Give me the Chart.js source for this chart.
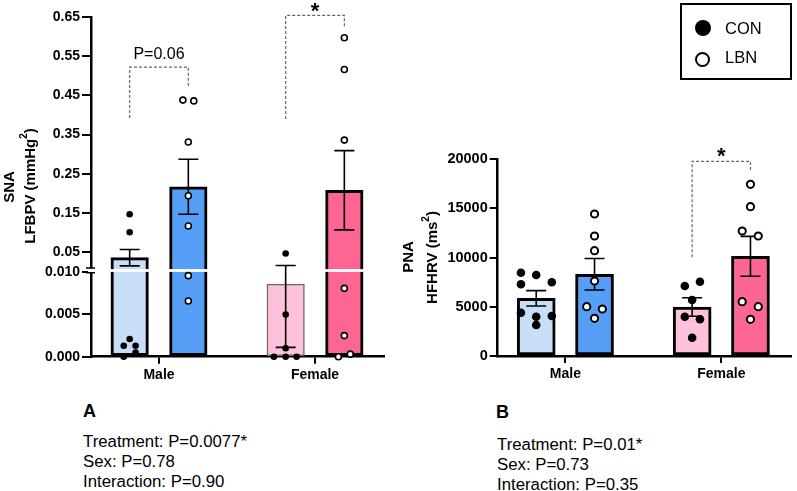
<!DOCTYPE html>
<html>
<head>
<meta charset="utf-8">
<title>SNA / PNA by sex and treatment</title>
<script src="https://cdn.jsdelivr.net/npm/chart.js@4.4.1/dist/chart.umd.min.js"></script>
<style>
  body { margin: 0; background: #fff; }
  #figure {
    position: relative; width: 797px; height: 491px; overflow: hidden; background: #fff;
    font-family: "Liberation Sans", Arial, Helvetica, sans-serif; color: #000;
  }
  #figure canvas { position: absolute; top: 0; }
  #chart-a { left: 0; }
  #chart-b { left: 400px; }
  .legend-box { position: absolute; left: 680px; top: 3px; width: 108px; height: 73px; border: 2px solid #000; }
  .legend-dot { position: absolute; border-radius: 50%; box-sizing: border-box; }
  .legend-text { position: absolute; font-size: 16.5px; line-height: 16.5px; white-space: nowrap; }
  .panel-tag { position: absolute; font-weight: bold; font-size: 18px; line-height: 18px; }
  .stats { position: absolute; font-size: 16.8px; line-height: 20.2px; white-space: nowrap; }
</style>
</head>
<body>
<div id="figure">
  <canvas id="chart-a" width="395" height="400"></canvas>
  <canvas id="chart-b" width="397" height="400"></canvas>
  <div class="legend-box"></div>
  <div id="legend"></div>
  <div class="panel-tag" style="left:83px;top:401.5px">A</div>
  <div class="stats" id="stats-a" style="left:83px;top:432px"></div>
  <div class="panel-tag" style="left:496px;top:403px">B</div>
  <div class="stats" id="stats-b" style="left:497px;top:434.5px"></div>
</div>
<script>
// Two-panel bar + dot figure: SNA (LFBPV) and PNA (HFHRV), CON vs LBN.
// Plain script, no modules.

// --- data ---

const SEXES = ["Male", "Female"];
const GROUPS = ["CON", "LBN"];

// panel A, broken y axis: lower segment 0..0.010, upper 0.05..0.65
const A_LOWER_TICKS = [0, 0.005, 0.010];
const A_UPPER_TICKS = [0.05, 0.15, 0.25, 0.35, 0.45, 0.55, 0.65];
const A_CON_MEAN = [0.036, 0.0086];
const A_CON_SEM = [0.021, 0.0075];
const A_LBN_MEAN = [0.217, 0.208];
const A_LBN_SEM = [0.07, 0.101];
const A_CON_POINTS = [
  [0.147, 0.101, 0.0021, 0.0013, 0.0013, 0.0005, 0],
  [0.0465, 0.005, 0.001, 0, 0, 0],
];
const A_LBN_POINTS = [
  [0.438, 0.436, 0.331, 0.194, 0.117, 0.0096, 0.0066],
  [0.597, 0.516, 0.336, 0.0081, 0.0025, 0.0003, 0],
];
// sideways spread of the dots (category units)
const A_CON_JITTER = [
  [0, 0, 0, -0.038, 0.038, 0.038, -0.038],
  [0, 0, 0, -0.075, 0, 0.07],
];
const A_LBN_JITTER = [
  [-0.035, 0.035, 0, 0, 0, 0, 0],
  [0, 0, 0, 0, 0, 0.038, -0.038],
];
const A_STATS = ["Treatment: P=0.0077*", "Sex: P=0.78", "Interaction: P=0.90"];

// panel B
const B_TICKS = [0, 5000, 10000, 15000, 20000];
const B_CON_MEAN = [5864, 4980];
const B_CON_SEM = [780, 940];
const B_LBN_MEAN = [8303, 10132];
const B_LBN_SEM = [1600, 2020];
const B_CON_POINTS = [
  [8465, 8232, 7287, 7490, 4400, 4065, 3994, 3150],
  [7551, 7114, 5691, 3994, 3730, 1860],
];
const B_LBN_POINTS = [
  [14431, 12195, 10700, 7622, 5010, 4776, 3830],
  [17449, 15173, 12703, 12195, 5518, 5010, 3730],
];
const B_CON_JITTER = [
  [-0.098, 0, -0.098, 0.1, -0.098, 0.1, 0, 0],
  [0.05, -0.047, 0, -0.047, 0.05, 0],
];
const B_LBN_JITTER = [
  [0, 0, 0, 0, -0.05, 0.05, 0],
  [0, 0, -0.053, 0.05, -0.053, 0.05, 0],
];
const B_STATS = ["Treatment: P=0.01*", "Sex: P=0.73", "Interaction: P=0.35"];

// --- look ---

const FONT = "'Liberation Sans', Arial, Helvetica, sans-serif";
const CON_FILL = ["#c8ddf6", "#fec1dc"];
const LBN_FILL = ["#579ff6", "#fd6692"];

// axis ranges of the two stacked segments in panel A
const A_LOW_MAX = 0.010213;
const A_HIGH_MIN = 0.00332;
const A_HIGH_MAX = 0.65;

const SHIFT_A = 0.188; // CON / LBN bar offset from the category centre
const SHIFT_B = 0.187;
const CAP = 10;

Chart.defaults.font.family = FONT;
Chart.defaults.color = "#000";

// --- helpers ---

function points_build(valuesBySex, jitterBySex, shift, keep) {
  const out = [];
  valuesBySex.forEach(function (vals, sex) {
    vals.forEach(function (v, k) {
      if (keep(v)) {
        out.push({ x: sex + shift + jitterBySex[sex][k], y: v });
      }
    });
  });
  return out;
}

function dots_dataset(label, data, yAxisID, open, radius) {
  return {
    type: "scatter",
    label: label,
    order: 1,
    clip: false,
    xAxisID: "x",
    yAxisID: yAxisID,
    data: data,
    pointRadius: open ? radius - 0.8 : radius,
    pointBackgroundColor: open ? "#fff" : "#000",
    pointBorderColor: "#000",
    pointBorderWidth: open ? (radius > 4 ? 2 : 1.6) : 0,
  };
}

function ticks_fixed(values) {
  return function (scale) {
    scale.ticks = values.map(function (v) {
      return { value: v };
    });
  };
}

function axis_x(min, max) {
  return {
    type: "linear",
    min: min,
    max: max,
    offset: false,
    afterBuildTicks: ticks_fixed(SEXES.map(function (_, i) { return i; })),
    afterFit: function (s) { s.height = 30; },
    ticks: {
      callback: function (v) { return SEXES[v]; },
      font: { size: 14, weight: "bold" },
      padding: 3,
      maxRotation: 0,
      autoSkip: false,
    },
    grid: { display: true, offset: false, drawOnChartArea: false, drawTicks: true, tickLength: 7, color: "#000", lineWidth: 2 },
    border: { display: true, color: "#000", width: 2.5 },
  };
}

function axis_y(opts) {
  return Object.assign({
    type: "linear",
    position: "left",
    offset: false,
    stacked: false,
    afterFit: function (s) { s.width = opts.width; },
    afterBuildTicks: ticks_fixed(opts.ticks),
    ticks: {
      font: { size: opts.fontSize, weight: "bold" },
      padding: 2,
      autoSkip: false,
      callback: opts.format,
    },
    grid: { display: true, drawOnChartArea: false, drawTicks: true, tickLength: opts.tickLength, color: "#000", lineWidth: 2 },
    border: { display: true, color: "#000", width: 2.5 },
  }, opts.extra);
}

// --- overlay drawing (error bars, axis break, brackets, titles) ---

function overlay_drawErrorBars(chart, panel) {
  const ctx = chart.ctx;
  const xs = chart.scales.x;
  ctx.save();
  ctx.strokeStyle = "#000";
  ctx.lineWidth = 1.6;
  panel.groups.forEach(function (g) {
    g.mean.forEach(function (m, sex) {
      const x = xs.getPixelForValue(sex + g.shift);
      const yTop = panel.yPixel(chart, m + g.sem[sex]);
      const yBot = panel.yPixel(chart, Math.max(m - g.sem[sex], 0));
      ctx.beginPath();
      ctx.moveTo(x, yTop);
      ctx.lineTo(x, yBot);
      ctx.moveTo(x - CAP, yTop);
      ctx.lineTo(x + CAP, yTop);
      ctx.moveTo(x - CAP, yBot);
      ctx.lineTo(x + CAP, yBot);
      ctx.stroke();
    });
  });
  ctx.restore();
}

function overlay_drawBreak(chart) {
  const ctx = chart.ctx;
  const area = chart.chartArea;
  const yb = chart.scales.yLow.top; // seam between the two segments
  ctx.save();
  ctx.fillStyle = "#fff";
  ctx.fillRect(area.left + 2, yb - 1.4, area.right - area.left - 2, 2.8);
  ctx.fillRect(area.left - 3, yb - 2, 6, 4);
  ctx.strokeStyle = "#000";
  ctx.lineWidth = 1.5;
  ctx.beginPath();
  ctx.moveTo(area.left - 5, yb - 2.6);
  ctx.lineTo(area.left + 4, yb - 2.6);
  ctx.moveTo(area.left - 5, yb + 2.2);
  ctx.lineTo(area.left + 4, yb + 2.2);
  ctx.stroke();
  ctx.restore();
}

function overlay_drawBrackets(chart, panel) {
  const ctx = chart.ctx;
  const xs = chart.scales.x;
  panel.brackets.forEach(function (b) {
    const xl = xs.getPixelForValue(b.sex - panel.shift);
    const xr = xs.getPixelForValue(b.sex + panel.shift);
    const yl = panel.yPixel(chart, b.leftFoot);
    const yt = panel.yPixel(chart, b.top);
    const yr = panel.yPixel(chart, b.rightFoot);
    ctx.save();
    ctx.strokeStyle = "#666";
    ctx.lineWidth = 1.2;
    ctx.setLineDash([3, 2]);
    ctx.beginPath();
    ctx.moveTo(xl, yl);
    ctx.lineTo(xl, yt);
    ctx.lineTo(xr, yt);
    ctx.lineTo(xr, yr);
    ctx.stroke();
    ctx.setLineDash([]);
    ctx.fillStyle = "#000";
    ctx.textAlign = "center";
    const xc = (xl + xr) / 2;
    const yc = panel.yPixel(chart, b.labelAt);
    if (b.label === "*") {
      ctx.font = "bold 22px " + FONT;
      ctx.textBaseline = "alphabetic";
      ctx.fillText(b.label, xc, yc + 0.58 * 22);
    } else {
      ctx.font = "16px " + FONT;
      ctx.textBaseline = "middle";
      ctx.fillText(b.label, xc, yc);
    }
    ctx.restore();
  });
}

// a rotated title line, made of plain and superscript parts
function overlay_drawTitleLine(ctx, line) {
  const bodyFont = "bold 15px " + FONT;
  const supFont = "bold 10px " + FONT;
  let total = 0;
  line.parts.forEach(function (p) {
    ctx.font = p.sup ? supFont : bodyFont;
    total += ctx.measureText(p.text).width;
  });
  ctx.save();
  ctx.translate(line.x, line.y);
  ctx.rotate(-Math.PI / 2);
  ctx.textAlign = "left";
  ctx.textBaseline = "middle";
  let cursor = -total / 2;
  line.parts.forEach(function (p) {
    ctx.font = p.sup ? supFont : bodyFont;
    ctx.fillText(p.text, cursor, p.sup ? -6 : 0);
    cursor += ctx.measureText(p.text).width;
  });
  ctx.restore();
}

function overlay_drawTitle(chart, panel) {
  const ctx = chart.ctx;
  ctx.save();
  ctx.fillStyle = "#000";
  panel.title.forEach(function (line) {
    overlay_drawTitleLine(ctx, line);
  });
  ctx.restore();
}

function overlay_plugin(panel) {
  return {
    id: "overlay" + panel.name,
    // dataset 0 is the bar that is painted last, dots come after it
    afterDatasetDraw: function (chart, args) {
      if (args.index !== 0) return;
      if (panel.broken) overlay_drawBreak(chart);
      overlay_drawErrorBars(chart, panel);
    },
    afterDraw: function (chart) {
      overlay_drawBrackets(chart, panel);
      overlay_drawTitle(chart, panel);
    },
  };
}

// --- panel A ---

function panelA_yPixel(chart, v) {
  return v <= A_LOW_MAX
    ? chart.scales.yLow.getPixelForValue(v)
    : chart.scales.yHigh.getPixelForValue(v);
}

function panelA_build() {
  const isLow = function (v) { return v <= A_LOW_MAX; };
  const isHigh = function (v) { return v > A_LOW_MAX; };
  const skipClipped = function (c) {
    return c.raw && c.raw.y >= A_LOW_MAX ? "top" : false;
  };

  function lowBars(label, means, shift, fill, border, width) {
    return {
      type: "bar", label: label, order: 2, grouped: false, barThickness: 37.5,
      xAxisID: "x", yAxisID: "yLow",
      data: means.map(function (m, i) { return { x: i + shift, y: Math.min(m, A_LOW_MAX) }; }),
      backgroundColor: fill, borderColor: border, borderWidth: width, borderSkipped: skipClipped,
    };
  }
  function highBars(label, means, shift, fill) {
    const data = [];
    means.forEach(function (m, i) {
      if (m > A_LOW_MAX) data.push({ x: i + shift, y: [A_HIGH_MIN, m] });
    });
    return {
      type: "bar", label: label, order: 2, grouped: false, barThickness: 37.5,
      xAxisID: "x", yAxisID: "yHigh", data: data,
      backgroundColor: fill, borderColor: "#000", borderWidth: 3, borderSkipped: "bottom",
    };
  }

  const datasets = [
    lowBars("CON", A_CON_MEAN, -SHIFT_A, CON_FILL, ["#000", "#6a6a6a"], [3, 1.5]),
    lowBars("LBN", A_LBN_MEAN, SHIFT_A, LBN_FILL, "#000", 3),
    highBars("CON", A_CON_MEAN, -SHIFT_A, CON_FILL),
    highBars("LBN", A_LBN_MEAN, SHIFT_A, LBN_FILL),
    dots_dataset("CON", points_build(A_CON_POINTS, A_CON_JITTER, -SHIFT_A, isLow), "yLow", false, 3.3),
    dots_dataset("CON", points_build(A_CON_POINTS, A_CON_JITTER, -SHIFT_A, isHigh), "yHigh", false, 3.3),
    dots_dataset("LBN", points_build(A_LBN_POINTS, A_LBN_JITTER, SHIFT_A, isLow), "yLow", true, 3.8),
    dots_dataset("LBN", points_build(A_LBN_POINTS, A_LBN_JITTER, SHIFT_A, isHigh), "yHigh", true, 3.8),
  ];

  const panel = {
    name: "A",
    broken: true,
    shift: SHIFT_A,
    yPixel: panelA_yPixel,
    groups: [
      { mean: A_CON_MEAN, sem: A_CON_SEM, shift: -SHIFT_A },
      { mean: A_LBN_MEAN, sem: A_LBN_SEM, shift: SHIFT_A },
    ],
    brackets: [
      { sex: 0, leftFoot: 0.3926, top: 0.522, rightFoot: 0.47, label: "P=0.06", labelAt: 0.555 },
      { sex: 1, leftFoot: 0.39, top: 0.654, rightFoot: 0.621, label: "*", labelAt: 0.681 },
    ],
    title: [
      { x: 10, y: 187, parts: [{ text: "SNA" }] },
      { x: 30.5, y: 186, parts: [{ text: "LFBPV (mmHg" }, { text: "2", sup: true }, { text: ")" }] },
    ],
  };

  return new Chart(document.getElementById("chart-a"), {
    type: "bar",
    data: { datasets: datasets },
    options: {
      responsive: false,
      animation: false,
      events: [],
      layout: { padding: { top: 17, right: 11, bottom: 13.3, left: 0 } },
      plugins: { legend: { display: false }, tooltip: { enabled: false } },
      scales: {
        x: axis_x(-0.4359, 1.4423),
        yLow: axis_y({
          width: 91, fontSize: 14, tickLength: 9, ticks: A_LOWER_TICKS,
          format: function (v) { return v.toFixed(3); },
          extra: { stack: "a", stackWeight: 86.2, min: 0, max: A_LOW_MAX },
        }),
        yHigh: axis_y({
          width: 91, fontSize: 14, tickLength: 9, ticks: A_UPPER_TICKS,
          format: function (v) { return v.toFixed(2); },
          extra: { stack: "a", stackWeight: 253.5, min: A_HIGH_MIN, max: A_HIGH_MAX },
        }),
      },
    },
    plugins: [overlay_plugin(panel)],
  });
}

// --- panel B ---

function panelB_yPixel(chart, v) {
  return chart.scales.y.getPixelForValue(v);
}

function panelB_build() {
  const all = function () { return true; };
  function bars(label, means, shift, fill) {
    return {
      type: "bar", label: label, order: 2, grouped: false, barThickness: 38,
      xAxisID: "x", yAxisID: "y",
      data: means.map(function (m, i) { return { x: i + shift, y: m }; }),
      backgroundColor: fill, borderColor: "#000", borderWidth: 3, borderSkipped: false,
    };
  }

  const datasets = [
    bars("CON", B_CON_MEAN, -SHIFT_B, CON_FILL),
    bars("LBN", B_LBN_MEAN, SHIFT_B, LBN_FILL),
    dots_dataset("CON", points_build(B_CON_POINTS, B_CON_JITTER, -SHIFT_B, all), "y", false, 4.3),
    dots_dataset("LBN", points_build(B_LBN_POINTS, B_LBN_JITTER, SHIFT_B, all), "y", true, 4.4),
  ];

  const panel = {
    name: "B",
    broken: false,
    shift: SHIFT_B,
    yPixel: panelB_yPixel,
    groups: [
      { mean: B_CON_MEAN, sem: B_CON_SEM, shift: -SHIFT_B },
      { mean: B_LBN_MEAN, sem: B_LBN_SEM, shift: SHIFT_B },
    ],
    brackets: [
      { sex: 1, leftFoot: 10030, top: 19787, rightFoot: 18730, label: "*", labelAt: 20935 },
    ],
    title: [
      { x: 9, y: 257, parts: [{ text: "PNA" }] },
      { x: 32.5, y: 257.5, parts: [{ text: "HFHRV (ms" }, { text: "2", sup: true }, { text: ")" }] },
    ],
  };

  return new Chart(document.getElementById("chart-b"), {
    type: "bar",
    data: { datasets: datasets },
    options: {
      responsive: false,
      animation: false,
      events: [],
      layout: { padding: { top: 159.2, right: 0.3, bottom: 14, left: 0 } },
      plugins: { legend: { display: false }, tooltip: { enabled: false } },
      scales: {
        x: axis_x(-0.434, 1.447),
        y: axis_y({
          width: 97.7, fontSize: 14.5, tickLength: 8, ticks: B_TICKS,
          format: function (v) { return String(v); },
          extra: { min: 0, max: 20000 },
        }),
      },
    },
    plugins: [overlay_plugin(panel)],
  });
}

// --- html pieces: legend and the stats notes ---

function legend_render() {
  const host = document.getElementById("legend");
  const rows = [
    { dotLeft: 694.7, dotTop: 20.3, size: 16, open: false, textTop: 20 },
    { dotLeft: 695.2, dotTop: 51.8, size: 15, open: true, textTop: 48.5 },
  ];
  GROUPS.forEach(function (name, i) {
    const r = rows[i];
    const dot = document.createElement("div");
    dot.className = "legend-dot";
    dot.style.left = r.dotLeft + "px";
    dot.style.top = r.dotTop + "px";
    dot.style.width = r.size + "px";
    dot.style.height = r.size + "px";
    dot.style.background = r.open ? "#fff" : "#000";
    dot.style.border = r.open ? "2px solid #000" : "none";
    host.appendChild(dot);

    const label = document.createElement("div");
    label.className = "legend-text";
    label.style.left = "725px";
    label.style.top = r.textTop + "px";
    label.textContent = name;
    host.appendChild(label);
  });
}

function stats_render(id, lines) {
  const el = document.getElementById(id);
  lines.forEach(function (line) {
    const row = document.createElement("div");
    row.textContent = line;
    el.appendChild(row);
  });
}

legend_render();
stats_render("stats-a", A_STATS);
stats_render("stats-b", B_STATS);
panelA_build();
panelB_build();
</script>
</body>
</html>
